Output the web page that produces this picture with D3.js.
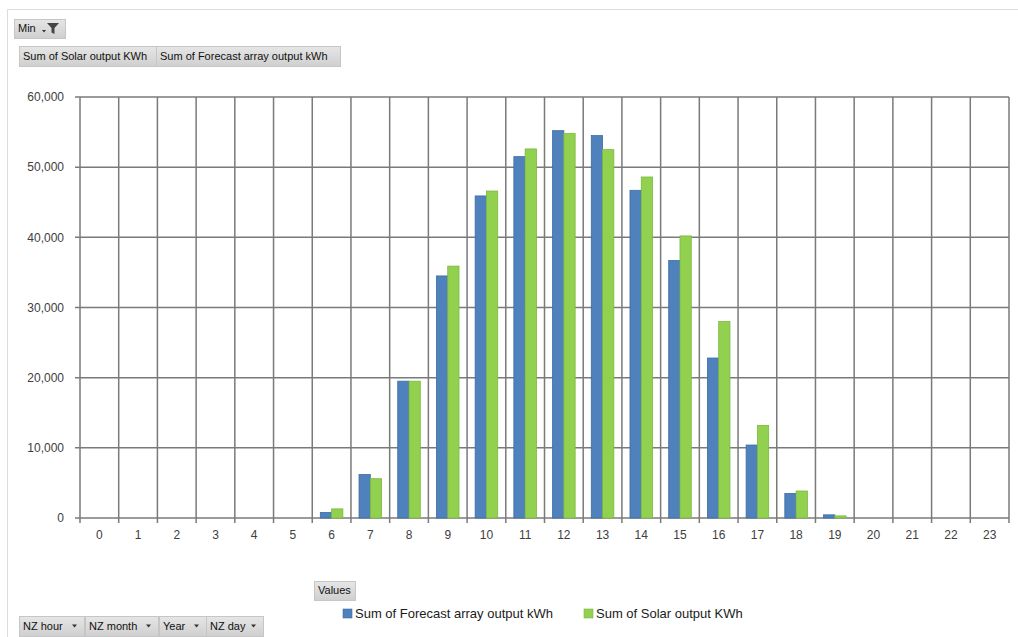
<!DOCTYPE html>
<html>
<head>
<meta charset="utf-8">
<script src="https://cdn.jsdelivr.net/npm/d3@7/dist/d3.min.js"></script>
<style>
  body { margin: 0; background: #fff; }
  svg { display: block; font-family: "Liberation Sans", Arial, sans-serif; }
  .btn rect { fill: url(#btnGrad); stroke: #c6c6c6; }
  .btn text { font-size: 11px; fill: #111; }
</style>
</head>
<body>
<svg id="chart" width="1018" height="637"></svg>
<script>
// hours of the day (x categories)
const hours = ["0","1","2","3","4","5","6","7","8","9","10","11","12","13","14","15","16","17","18","19","20","21","22","23"];
// Sum of Forecast array output kWh
const forecast = [0,0,0,0,0,0,800,6200,19500,34500,45900,51500,55200,54500,46700,36700,22800,10400,3500,450,0,0,0,0];
// Sum of Solar output KWh
const solar = [0,0,0,0,0,0,1300,5600,19500,35900,46600,52600,54800,52500,48600,40200,28000,13200,3850,300,0,0,0,0];
const seriesNames = ["Sum of Forecast array output kWh", "Sum of Solar output KWh"];
const seriesColors = ["#4f81bd", "#92d050"];
const seriesStroke = ["#3d6ca3", "#7cb93e"];
const yTicks = [0,10000,20000,30000,40000,50000,60000];

const svg = d3.select("#chart");

let defs = svg.append("defs");
let grad = defs.append("linearGradient").attr("id","btnGrad").attr("x1",0).attr("y1",0).attr("x2",0).attr("y2",1);
grad.append("stop").attr("offset","0%").attr("stop-color","#e6e6e6");
grad.append("stop").attr("offset","100%").attr("stop-color","#cfcfcf");

// outer frame lines
svg.append("line").attr("x1",7.5).attr("x2",1018).attr("y1",9.5).attr("y2",9.5).attr("stroke","#dcdcdc");
svg.append("line").attr("x1",7.5).attr("x2",7.5).attr("y1",9.5).attr("y2",637).attr("stroke","#dcdcdc");

const margin = {left: 80, right: 1009, top: 97, bottom: 518};

const x0 = d3.scaleBand().domain(hours).range([margin.left, margin.right]).padding(0);
const x1 = d3.scaleBand().domain([0,1]).range([0, x0.bandwidth()]).paddingInner(0).paddingOuter(0.715);
const y = d3.scaleLinear().domain([0, 60000]).range([margin.bottom, margin.top]);

const grid = svg.append("g");
// horizontal gridlines
grid.selectAll(".hg").data(yTicks).enter().append("line")
    .attr("x1", margin.left - 5).attr("x2", margin.right)
    .attr("y1", d => y(d)).attr("y2", d => y(d))
    .attr("stroke", "#7a7a7a").attr("stroke-width", 1.5);
// vertical gridlines at category edges
let edges = hours.map(h => x0(h)).concat([margin.right]);
grid.selectAll(".vg").data(edges).enter().append("line")
    .attr("x1", d => d).attr("x2", d => d)
    .attr("y1", margin.top).attr("y2", margin.bottom + 5)
    .attr("stroke", "#7a7a7a").attr("stroke-width", 1.5);

// y tick labels
svg.append("g").selectAll("text").data(yTicks).enter().append("text")
    .attr("x", 64).attr("y", d => y(d)).attr("dy", "0.35em")
    .attr("text-anchor", "end").attr("font-size", 12).attr("fill", "#404040")
    .text(d => d3.format(",")(d));

// x tick labels
svg.append("g").selectAll("text").data(hours).enter().append("text")
    .attr("x", d => x0(d) + x0.bandwidth() / 2).attr("y", 535).attr("dy", "0.35em")
    .attr("text-anchor", "middle").attr("font-size", 12).attr("fill", "#404040")
    .text(d => d);

// bars
const series = [forecast, solar];
series.forEach((vals, si) => {
    svg.append("g").selectAll("rect").data(vals.map((v, i) => ({h: hours[i], v: v})).filter(d => d.v > 0))
        .enter().append("rect")
        .attr("x", d => x0(d.h) + x1(si))
        .attr("width", x1.bandwidth())
        .attr("y", d => y(d.v))
        .attr("height", d => y(0) - y(d.v))
        .attr("fill", seriesColors[si])
        .attr("stroke", seriesStroke[si]).attr("stroke-width", 0.8);
});

// pivot field buttons
function button(x, yy, w, h, label, arrow) {
    let g = svg.append("g").attr("class", "btn");
    g.append("rect").attr("x", x + 0.5).attr("y", yy + 0.5).attr("width", w).attr("height", h);
    g.append("text").attr("x", x + 4).attr("y", yy + h / 2).attr("dy", "0.35em").text(label);
    if (arrow) {
        g.append("path").attr("d", `M${x + w - 12},${yy + h / 2 - 1.5} l5,0 l-2.5,3 z`).attr("fill", "#333");
    }
    return g;
}

// Min filter button
let minBtn = button(14, 19, 51, 19, "Min", false);
minBtn.append("path").attr("d", "M42,30 l4,0 l-2,2.5 z").attr("fill", "#333");
minBtn.append("path").attr("d", "M47,23 l12,0 l-4.5,5 l0,6 l-3,-1.5 l0,-4.5 z").attr("fill", "#444");

button(19, 46, 137, 20, "Sum of Solar output KWh", false);
button(156, 46, 184, 20, "Sum of Forecast array output kWh", false);

button(314, 581, 41, 19, "Values", false);

const axisFields = [["NZ hour", 19, 65], ["NZ month", 85, 73], ["Year", 159, 47], ["NZ day", 206, 57]];
axisFields.forEach(f => button(f[1], 616, f[2], 20, f[0], true));

// legend
const legendX = [343, 584];
seriesNames.forEach((n, i) => {
    svg.append("rect").attr("x", legendX[i]).attr("y", 609).attr("width", 9).attr("height", 9)
        .attr("fill", seriesColors[i]).attr("stroke", seriesStroke[i]).attr("stroke-width", 0.6);
    svg.append("text").attr("x", legendX[i] + 12).attr("y", 613.5).attr("dy", "0.35em")
        .attr("font-size", 13).attr("fill", "#1a1a1a").text(n);
});
</script>
</body>
</html>
